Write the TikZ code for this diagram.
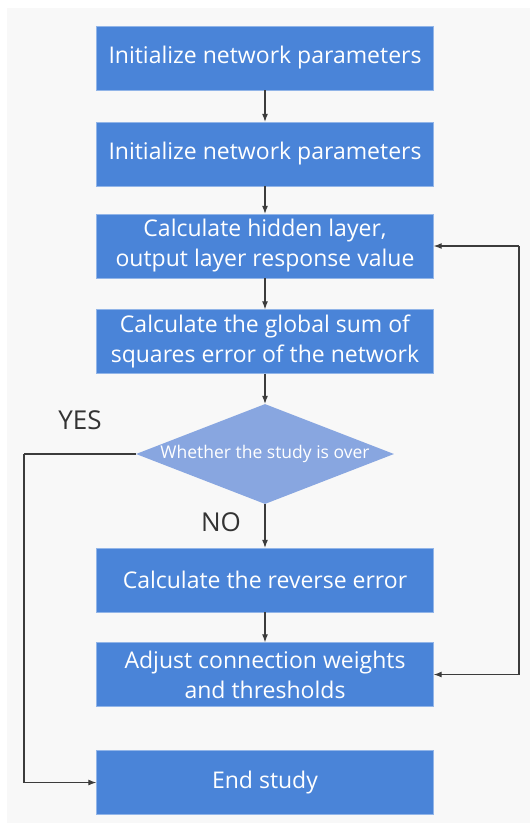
\documentclass[tikz,border=0pt]{standalone}
\usepackage{fontspec}
\setmainfont{Open Sans}
\usetikzlibrary{shapes.geometric, arrows.meta}
\definecolor{boxblue}{RGB}{74,132,216}
\definecolor{diablue}{RGB}{136,166,224}
\definecolor{linegray}{RGB}{60,60,60}
\definecolor{bggray}{RGB}{248,248,248}

\begin{document}
\begin{tikzpicture}[x=1pt, y=-1pt,
    block/.style={rectangle, fill=boxblue, draw=boxblue!60!white, text=white, minimum width=337pt, minimum height=64pt, inner sep=0pt, align=center, font=\fontsize{23}{30}\selectfont},
    decision/.style={diamond, aspect=2.58, fill=diablue, text=white, minimum width=258pt, minimum height=100pt, inner sep=0pt, font=\fontsize{17.5}{20}\selectfont},
    link/.style={draw=linegray, line width=1.1pt},
    flow/.style={link, -{Latex[length=8pt, width=6pt]}},
    answer/.style={text=black!80, font=\fontsize{26}{30}\selectfont}]
    \useasboundingbox (0,0) rectangle (530,825);
    \fill[bggray] (7,8) rectangle (530,823);
    % boxes down the middle
    \node[block] (init1) at (265,58) {Initialize network parameters};
    \node[block] (init2) at (265,154) {Initialize network parameters};
    \node[block] (hidden) at (265,246) {Calculate hidden layer,\\output layer response value};
    \node[block] (global) at (265,341.5) {Calculate the global sum of\\squares error of the network};
    \node[decision] (over) at (265,454) {Whether the study is over};
    \node[block] (reverse) at (265,580) {Calculate the reverse error};
    \node[block] (adjust) at (265,674.5) {Adjust connection weights\\and thresholds};
    \node[block] (finish) at (265,782.5) {End study};
    \node[answer] (yes) at (80,420) {YES};
    \node[answer] (no) at (221,522) {NO};
    \coordinate (lturn) at (24,454);
    \coordinate (rturn) at (519,246);
    % arrows
    \foreach \a/\b in {init1/init2, init2/hidden, hidden/global, global/over, over/reverse, reverse/adjust}
        \draw[flow] (\a) -- (\b);
    \draw[link] (over.west) -- (lturn);
    \draw[flow] (lturn) |- (finish.west);
    \draw[flow] (rturn) -- (hidden.east);
    \draw[flow] (rturn) |- (adjust.east);
\end{tikzpicture}
\end{document}
